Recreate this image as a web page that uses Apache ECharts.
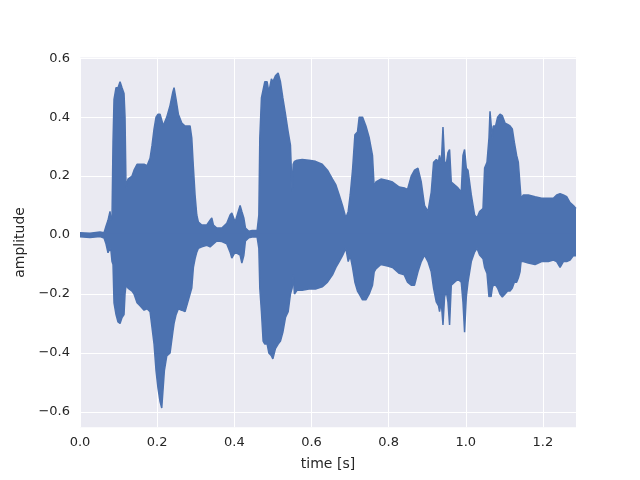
<!DOCTYPE html>
<html>
<head>
<meta charset="utf-8">
<script src="https://cdn.jsdelivr.net/npm/echarts@6/dist/echarts.min.js"></script>
<style>html,body{margin:0;padding:0;background:#fff}#chart{width:640px;height:480px}</style>
</head>
<body>
<div id="chart"></div>
<script>
// Waveform envelope: time [s], upper and lower amplitude
const time = [0,0.0259,0.0519,0.0623,0.0674,0.0726,0.0778,0.0804,0.0830,0.0856,0.0882,0.0934,0.0986,0.1038,0.1089,0.1141,0.1167,0.1193,0.1245,0.1349,0.1401,0.1479,0.1556,0.1660,0.1738,0.1816,0.1868,0.1920,0.1971,0.2023,0.2075,0.2119,0.2161,0.2187,0.2249,0.2335,0.2405,0.2438,0.2490,0.2550,0.2638,0.2724,0.2853,0.2897,0.2939,0.2983,0.3027,0.3069,0.3157,0.3287,0.3372,0.3416,0.3458,0.3546,0.3676,0.3805,0.3891,0.3935,0.4021,0.4150,0.4195,0.4246,0.4288,0.4376,0.4462,0.4591,0.4636,0.4661,0.4703,0.4747,0.4791,0.4851,0.4895,0.4962,0.4999,0.5066,0.5136,0.5196,0.5258,0.5326,0.5396,0.5455,0.5499,0.5525,0.5559,0.5629,0.5759,0.5933,0.6104,0.6278,0.6415,0.6545,0.6633,0.6719,0.6804,0.6892,0.6952,0.7004,0.7064,0.7126,0.7193,0.7237,0.7323,0.7411,0.7497,0.7582,0.7626,0.7670,0.7800,0.7971,0.8101,0.8275,0.8405,0.8490,0.8586,0.8672,0.8760,0.8846,0.8931,0.9020,0.9105,0.9165,0.9235,0.9294,0.9320,0.9364,0.9409,0.9450,0.9494,0.9538,0.9580,0.9624,0.9709,0.9798,0.9883,0.9927,0.9969,1.0013,1.0057,1.0143,1.0228,1.0291,1.0358,1.0446,1.0488,1.0550,1.0602,1.0628,1.0654,1.0687,1.0713,1.0773,1.0825,1.0887,1.0947,1.1017,1.1084,1.1147,1.1206,1.1258,1.1318,1.1362,1.1406,1.1432,1.1492,1.1621,1.1795,1.1966,1.2140,1.2270,1.2356,1.2444,1.2529,1.2615,1.2703,1.2789,1.2857];
const upperEnv = [0.008,0.006,0.010,0.008,0.030,0.050,0.080,0.050,0.060,0.315,0.460,0.500,0.500,0.520,0.500,0.480,0.400,0.160,0.190,0.200,0.220,0.240,0.240,0.240,0.235,0.260,0.305,0.360,0.400,0.410,0.410,0.390,0.370,0.380,0.400,0.440,0.485,0.500,0.460,0.410,0.380,0.370,0.370,0.330,0.230,0.135,0.068,0.044,0.034,0.034,0.050,0.058,0.034,0.024,0.024,0.040,0.068,0.075,0.044,0.100,0.080,0.058,0.024,0.013,0.015,0.015,0.068,0.330,0.465,0.470,0.520,0.520,0.485,0.530,0.520,0.540,0.550,0.520,0.465,0.410,0.350,0.305,0.146,0.240,0.250,0.254,0.256,0.254,0.250,0.240,0.220,0.190,0.170,0.136,0.100,0.058,0.080,0.136,0.220,0.340,0.350,0.400,0.400,0.370,0.330,0.270,0.160,0.180,0.190,0.185,0.180,0.163,0.160,0.155,0.200,0.220,0.227,0.180,0.100,0.080,0.146,0.247,0.256,0.250,0.270,0.240,0.366,0.250,0.240,0.280,0.290,0.180,0.170,0.160,0.146,0.270,0.290,0.227,0.220,0.136,0.068,0.058,0.080,0.090,0.227,0.247,0.330,0.420,0.420,0.330,0.370,0.370,0.400,0.410,0.405,0.380,0.375,0.370,0.360,0.315,0.270,0.247,0.247,0.125,0.136,0.136,0.130,0.125,0.125,0.125,0.136,0.140,0.136,0.130,0.110,0.100,0.090];
const lowerEnv = [-0.006,-0.008,-0.005,-0.010,-0.030,-0.060,-0.045,-0.055,-0.090,-0.100,-0.230,-0.270,-0.295,-0.300,-0.280,-0.270,-0.200,-0.170,-0.180,-0.190,-0.200,-0.230,-0.240,-0.255,-0.250,-0.260,-0.315,-0.370,-0.460,-0.520,-0.565,-0.587,-0.593,-0.460,-0.410,-0.400,-0.330,-0.300,-0.270,-0.250,-0.255,-0.260,-0.200,-0.180,-0.110,-0.080,-0.058,-0.045,-0.040,-0.035,-0.040,-0.045,-0.030,-0.020,-0.022,-0.030,-0.058,-0.078,-0.058,-0.068,-0.095,-0.070,-0.020,-0.009,-0.007,-0.007,-0.045,-0.180,-0.260,-0.360,-0.370,-0.370,-0.400,-0.410,-0.420,-0.385,-0.370,-0.360,-0.330,-0.280,-0.260,-0.200,-0.180,-0.135,-0.200,-0.187,-0.187,-0.183,-0.183,-0.176,-0.160,-0.135,-0.110,-0.090,-0.070,-0.045,-0.090,-0.070,-0.110,-0.160,-0.190,-0.200,-0.220,-0.220,-0.200,-0.170,-0.125,-0.115,-0.100,-0.105,-0.110,-0.130,-0.135,-0.160,-0.170,-0.170,-0.125,-0.090,-0.068,-0.090,-0.125,-0.180,-0.227,-0.240,-0.260,-0.227,-0.305,-0.210,-0.190,-0.227,-0.305,-0.170,-0.160,-0.150,-0.160,-0.227,-0.330,-0.210,-0.160,-0.090,-0.058,-0.045,-0.068,-0.080,-0.110,-0.130,-0.210,-0.200,-0.210,-0.180,-0.170,-0.170,-0.180,-0.200,-0.210,-0.200,-0.190,-0.190,-0.180,-0.160,-0.160,-0.146,-0.125,-0.090,-0.090,-0.095,-0.100,-0.090,-0.090,-0.085,-0.090,-0.110,-0.090,-0.090,-0.085,-0.070,-0.070];
const xTicks = [0, 0.2, 0.4, 0.6, 0.8, 1.0, 1.2];
const yTicks = [-0.6, -0.4, -0.2, 0.0, 0.2, 0.4, 0.6];

const fmt = v => { const s = Number(v).toFixed(1); return s.startsWith('-') ? '\u2212' + s.slice(1) : s; };
const txt = '#262626';
const blue = '#4C72B0';
const font = 'DejaVu Sans';

const chart = echarts.init(document.getElementById('chart'), null, {renderer: 'canvas'});
chart.setOption({
  animation: false,
  backgroundColor: '#ffffff',
  textStyle: {fontFamily: font},
  grid: {left: 80, right: 64, top: 57.6, bottom: 52.8, show: true, backgroundColor: '#EAEAF2', borderWidth: 0},
  xAxis: {
    type: 'value', min: 0, max: 1.2857,
    name: 'time [s]', nameLocation: 'middle', nameGap: 30,
    nameTextStyle: {color: txt, fontSize: 14, fontFamily: font},
    axisLine: {show: false}, axisTick: {show: false, customValues: xTicks},
    axisLabel: {customValues: xTicks, formatter: fmt, color: txt, fontSize: 13, fontFamily: font, margin: 9},
    splitLine: {show: true, lineStyle: {color: '#ffffff', width: 1}}
  },
  yAxis: {
    type: 'value', min: -0.652, max: 0.602,
    name: 'amplitude', nameLocation: 'middle', nameGap: 45,
    nameTextStyle: {color: txt, fontSize: 14, fontFamily: font},
    axisLine: {show: false}, axisTick: {show: false, customValues: yTicks},
    axisLabel: {customValues: yTicks, formatter: fmt, color: txt, fontSize: 13, fontFamily: font, margin: 10},
    splitLine: {show: true, lineStyle: {color: '#ffffff', width: 1}}
  },
  series: [
    {
      type: 'line', symbol: 'none', silent: true,
      data: time.map((t, i) => [t, upperEnv[i]]),
      lineStyle: {color: blue, width: 1.5},
      areaStyle: {color: blue, opacity: 1, origin: -0.004}
    },
    {
      type: 'line', symbol: 'none', silent: true,
      data: time.map((t, i) => [t, lowerEnv[i]]),
      lineStyle: {color: blue, width: 1.5},
      areaStyle: {color: blue, opacity: 1, origin: 0.004}
    }
  ]
});
</script>
</body>
</html>
